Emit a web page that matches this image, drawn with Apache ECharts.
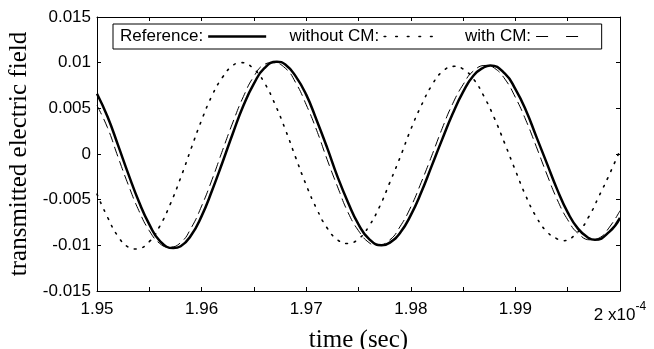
<!DOCTYPE html>
<html>
<head>
<meta charset="utf-8">
<script src="https://cdn.jsdelivr.net/npm/echarts@6/dist/echarts.min.js"></script>
<style>
html,body{margin:0;padding:0;background:#fff;}
#chart{width:654px;height:349px;}
</style>
</head>
<body>
<div id="chart"></div>
<script>
// time in units of 1e-4 s
var refTimes = [1.950,1.951,1.952,1.953,1.954,1.955,1.956,1.9573,1.958,1.959,
                1.960,1.961,1.962,1.963,1.964,1.965,1.966,1.9672,1.968,1.969,
                1.970,1.971,1.972,1.973,1.974,1.975,1.976,1.9772,1.978,1.979,
                1.980,1.981,1.982,1.983,1.984,1.985,1.986,1.987,1.9876,1.989,
                1.990,1.991,1.992,1.993,1.994,1.995,1.996,1.997,1.9976,1.999,2.000];
var reference = [0.0066,0.0041,0.0010,-0.0022,-0.0052,-0.0077,-0.0095,-0.0103,-0.0101,-0.0089,
                 -0.0068,-0.0040,-0.0009,0.0023,0.0053,0.0077,0.0094,0.0101,0.0098,0.0085,
                 0.0065,0.0037,0.0007,-0.0025,-0.0053,-0.0077,-0.0093,-0.0100,-0.0097,-0.0086,
                 -0.0067,-0.0042,-0.0013,0.0016,0.0044,0.0068,0.0086,0.0095,0.0097,0.0088,
                 0.0071,0.0048,0.0019,-0.0010,-0.0039,-0.0064,-0.0082,-0.0092,-0.0094,-0.0085,-0.0070];
var woTimes = [1.950,1.951,1.952,1.953,1.9537,1.955,1.956,1.957,1.958,1.959,
               1.960,1.961,1.962,1.963,1.9638,1.965,1.966,1.967,1.968,1.969,
               1.970,1.971,1.972,1.973,1.9739,1.975,1.976,1.977,1.978,1.979,
               1.980,1.981,1.982,1.983,1.9842,1.985,1.986,1.987,1.988,1.989,
               1.990,1.991,1.992,1.993,1.994,1.9945,1.996,1.997,1.998,1.999,2.000];
var withoutCM = [-0.0044,-0.0069,-0.0090,-0.0102,-0.0104,-0.0096,-0.0079,-0.0055,-0.0026,0.0006,
                 0.0037,0.0064,0.0084,0.0097,0.0100,0.0093,0.0078,0.0055,0.0027,-0.0004,
                 -0.0034,-0.0060,-0.0081,-0.0094,-0.0098,-0.0093,-0.0079,-0.0058,-0.0031,-0.0003,
                 0.0027,0.0053,0.0075,0.0090,0.0096,0.0093,0.0082,0.0063,0.0039,0.0011,
                 -0.0018,-0.0046,-0.0069,-0.0085,-0.0093,-0.0095,-0.0085,-0.0069,-0.0046,-0.0022,0.0004];
var wTimes = [1.950,1.951,1.952,1.953,1.954,1.955,1.956,1.9569,1.958,1.959,
              1.960,1.961,1.962,1.963,1.964,1.965,1.966,1.9668,1.968,1.969,
              1.970,1.971,1.972,1.973,1.974,1.975,1.976,1.9768,1.978,1.979,
              1.980,1.981,1.982,1.983,1.984,1.985,1.986,1.9872,1.988,1.989,
              1.990,1.991,1.992,1.993,1.994,1.995,1.996,1.9972,1.998,1.999,2.000];
var withCM = [0.0053,0.0029,-0.0003,-0.0034,-0.0062,-0.0084,-0.0098,-0.0102,-0.0097,-0.0081,
              -0.0057,-0.0028,0.0004,0.0035,0.0063,0.0085,0.0098,0.0100,0.0094,0.0078,
              0.0054,0.0026,-0.0006,-0.0036,-0.0064,-0.0084,-0.0097,-0.0100,-0.0094,-0.0079,
              -0.0058,-0.0031,-0.0002,0.0028,0.0055,0.0076,0.0091,0.0097,0.0094,0.0082,
              0.0062,0.0037,0.0008,-0.0022,-0.0050,-0.0072,-0.0087,-0.0094,-0.0092,-0.0080,-0.0062];
var seriesNames = ['Reference:', 'without CM:', 'with CM:'];
var yTicks = ['-0.015','-0.01','-0.005','0','0.005','0.01','0.015'];

function pairs(ts, vals){ return ts.map(function(t,i){ return [t, vals[i]]; }); }

var chart = echarts.init(document.getElementById('chart'), null, {renderer:'canvas'});
var SANS = 'Liberation Sans, Arial, sans-serif';
var SERIF = 'Liberation Serif, Times New Roman, serif';
function xFmt(v){
  var k = Math.round(v*1000);
  if (k % 10 !== 0) return '';
  if (k === 2000) return '{a|2}{b| x10}{c|-4}';
  return (k/1000).toFixed(2);
}
function yFmt(v){
  var idx = Math.round((v + 0.015)/0.005);
  return yTicks[idx] !== undefined ? yTicks[idx] : '';
}
var axLine = {show:true, onZero:false, lineStyle:{color:'#000', width:1}};
var tick = {show:true, inside:true, length:4, lineStyle:{color:'#000'}};

chart.setOption({
  backgroundColor:'#fff',
  animation:false,
  grid:{left:97, right:34, top:17, bottom:58, show:false, containLabel:false, outerBoundsMode:'none'},
  legend:{
    left:113, top:24, align:'right', itemWidth:58, itemHeight:14, itemGap:22,
    padding:[4,7,4,7], borderColor:'#000', borderWidth:1, backgroundColor:'#fff',
    itemStyle:{opacity:0},
    textStyle:{fontFamily:SANS, fontSize:17, color:'#000'},
    data:[
      {name:seriesNames[0], lineStyle:{width:2.5, type:'solid', color:'#000'}},
      {name:seriesNames[1], lineStyle:{width:1.6, type:[1.6,10], color:'#000', cap:'round'}},
      {name:seriesNames[2], lineStyle:{width:1.2, type:[12,18], color:'#000'}}
    ]
  },
  xAxis:[{
    type:'value', min:1.95, max:2.0, interval:0.005, position:'bottom',
    name:'time (sec)', nameLocation:'middle', nameGap:34,
    nameTextStyle:{fontFamily:SERIF, fontSize:25, color:'#000'},
    axisLine:axLine, axisTick:tick, splitLine:{show:false},
    axisLabel:{fontFamily:SANS, fontSize:17, color:'#000', margin:10, formatter:xFmt,
      showMinLabel:true, showMaxLabel:true,
      rich:{a:{fontFamily:SANS,fontSize:17,color:'#000'},
            b:{fontFamily:SANS,fontSize:17,color:'#000'},
            c:{fontFamily:SANS,fontSize:12,color:'#000',padding:[0,0,16,0]}}}
  },{
    type:'value', min:1.95, max:2.0, interval:0.005, position:'top',
    axisLine:axLine, axisTick:tick, axisLabel:{show:false}, splitLine:{show:false}
  }],
  yAxis:[{
    type:'value', min:-0.015, max:0.015, interval:0.005, position:'left',
    name:'transmitted electric field', nameLocation:'middle', nameGap:63, nameRotate:90,
    nameTextStyle:{fontFamily:SERIF, fontSize:25, color:'#000'},
    axisLine:axLine, axisTick:tick, splitLine:{show:false},
    axisLabel:{fontFamily:SANS, fontSize:17, color:'#000', margin:6, formatter:yFmt}
  },{
    type:'value', min:-0.015, max:0.015, interval:0.005, position:'right',
    axisLine:axLine, axisTick:tick, axisLabel:{show:false}, splitLine:{show:false}
  }],
  series:[
    {name:seriesNames[1], type:'line', data:pairs(woTimes, withoutCM), smooth:true, symbol:'none',
     lineStyle:{color:'#000', width:1.6, type:[1.6,7], cap:'round'}, itemStyle:{color:'#000'}},
    {name:seriesNames[2], type:'line', data:pairs(wTimes, withCM), smooth:true, symbol:'none',
     lineStyle:{color:'#000', width:1, type:[10,5]}, itemStyle:{color:'#000'}},
    {name:seriesNames[0], type:'line', data:pairs(refTimes, reference), smooth:true, symbol:'none', z:5,
     lineStyle:{color:'#000', width:2.5}, itemStyle:{color:'#000'}}
  ]
});
</script>
</body>
</html>
